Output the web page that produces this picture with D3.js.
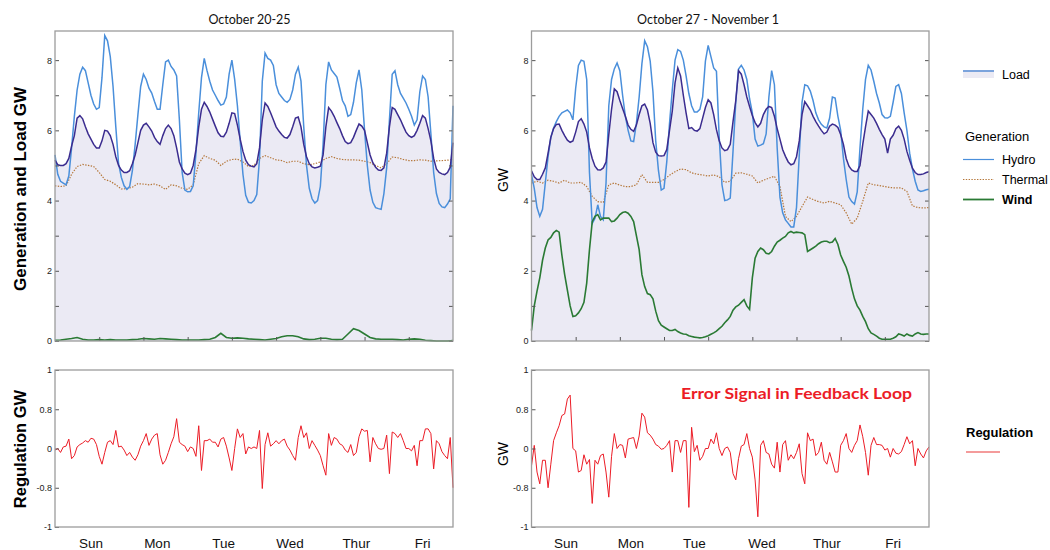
<!DOCTYPE html>
<html>
<head>
<meta charset="utf-8">
<script src="https://cdn.jsdelivr.net/npm/d3@7"></script>
<style>
  body { margin: 0; background: #fff; }
  svg text { font-family: "Liberation Sans", Arial, sans-serif; }
</style>
</head>
<body>
<svg id="chart" width="1050" height="550"></svg>
<script>
// Each week runs Sunday 00:00 to Saturday 00:00 (144 hours)
const weekTitles = ["October 20-25", "October 27 - November 1"];
const dayNames = ["Sun", "Mon", "Tue", "Wed", "Thur", "Fri"];
const dayLabelHours = [[13, 37, 61, 85, 109, 133], [12.5, 36, 59, 83.5, 107, 131]];
const hourTicks = [16, 32, 48, 64, 80, 96, 112, 128];
const gwTicks = [0, 1, 2, 3, 4, 5, 6, 7, 8];
const regTicks = [-1, -0.5, 0, 0.5, 1];
const regTickLabels = ["-1", "-0.8", "0", "0.8", "1"];

// hourly load, GW
const loadOct20 = [
  5.15,5.02,5.0,5.0,5.05,5.2,5.55,5.85,6.35,6.42,6.33,6.1,5.9,5.75,5.6,5.5,5.5,5.7,6.0,5.98,5.85,5.6,5.25,5.0,
  4.87,4.8,4.8,4.85,5.05,5.3,5.65,6.0,6.15,6.2,6.1,5.98,5.8,5.68,5.6,5.85,6.05,6.15,6.05,5.85,5.5,5.1,4.9,4.78,
  4.74,4.78,5.0,5.45,6.1,6.6,6.8,6.68,6.52,6.32,6.12,5.93,5.83,5.82,5.95,6.2,6.5,6.48,6.15,5.75,5.4,5.15,5.02,4.98,
  4.96,5.05,5.5,6.3,6.78,6.68,6.5,6.3,6.1,5.98,5.88,5.8,5.78,5.88,6.1,6.35,6.38,6.1,5.6,5.25,5.05,4.96,4.93,4.95,
  4.98,5.3,6.1,6.65,6.55,6.4,6.22,6.05,5.85,5.68,5.62,5.65,5.8,6.0,6.18,6.12,6.0,5.65,5.3,5.08,4.95,4.87,4.86,4.93,
  5.35,6.1,6.65,6.6,6.45,6.3,6.12,5.95,5.85,5.8,5.85,6.0,6.2,6.42,6.35,6.05,5.7,5.2,4.9,4.8,4.76,4.74,4.8,4.95,5.65
];
const loadOct27 = [
  4.85,4.68,4.6,4.6,4.75,4.93,5.35,5.8,6.05,6.17,6.18,6.0,5.85,5.72,5.66,5.7,5.95,6.25,6.33,6.18,5.95,5.5,5.2,4.98,
  4.88,4.87,4.93,5.1,5.88,6.6,7.18,7.1,6.85,6.62,6.4,6.15,6.03,5.97,6.15,6.45,6.7,6.75,6.58,6.2,5.65,5.38,5.28,5.27,
  5.28,5.45,6.0,6.55,7.35,7.78,7.55,7.0,6.5,6.05,6.08,6.0,5.98,6.05,6.35,6.65,6.87,6.78,6.45,6.02,5.7,5.5,5.42,5.45,
  5.6,6.25,6.85,7.7,7.6,7.3,6.95,6.68,6.42,6.22,6.1,6.2,6.45,6.6,6.68,6.65,6.4,6.05,5.75,5.45,5.26,5.1,5.02,5.05,
  5.25,5.7,6.45,6.82,6.7,6.58,6.4,6.25,6.12,6.0,5.9,5.95,6.12,6.18,6.15,6.08,5.88,5.6,5.2,4.98,4.87,4.83,4.83,5.0,
  5.6,6.1,6.55,6.45,6.35,6.2,6.03,5.88,5.75,5.35,5.75,5.86,6.05,6.12,6.0,5.75,5.4,5.15,4.92,4.8,4.74,4.74,4.76,4.8,4.82
];

// hourly hydro generation, GW
const hydroOct20 = [
  5.3,4.75,4.55,4.5,4.45,4.7,5.5,6.4,7.15,7.6,7.8,7.7,7.35,7.0,6.75,6.6,6.65,7.5,8.7,8.55,8.1,7.25,6.1,5.05,
  4.66,4.42,4.32,4.4,4.85,5.6,6.45,7.25,7.6,7.45,7.2,7.06,6.82,6.6,6.6,7.3,7.95,8.0,7.82,7.72,7.55,6.3,4.8,4.3,
  4.25,4.26,4.42,5.35,6.5,7.5,8.05,7.7,7.4,7.15,7.0,6.85,6.72,6.75,6.95,7.6,8.0,7.45,6.7,5.7,4.75,4.15,3.95,3.93,
  4.0,4.17,5.2,7.4,8.2,8.05,8.0,7.85,7.3,7.05,6.95,6.85,6.8,6.88,7.15,7.6,7.8,7.4,6.1,5.0,4.35,4.05,3.93,4.0,
  4.4,5.6,7.3,7.95,7.72,7.62,7.52,7.2,6.85,6.7,6.4,6.45,6.8,7.35,7.72,7.15,6.0,5.0,4.3,3.95,3.8,3.77,3.75,4.2,
  4.93,6.3,7.6,7.7,7.3,7.05,6.92,6.78,6.6,6.4,6.15,6.3,7.1,7.55,7.45,6.95,5.9,4.8,4.2,3.92,3.82,3.8,3.9,4.05,6.7
];
const hydroOct27 = [
  4.74,4.35,3.8,3.55,3.75,4.5,5.25,5.8,6.07,6.25,6.4,6.5,6.54,6.58,6.5,6.3,7.2,7.85,8.0,7.97,7.45,4.8,3.35,3.5,
  3.88,3.55,3.45,4.5,6.7,7.45,7.75,7.92,7.7,7.0,6.4,6.0,5.7,5.68,6.2,6.95,7.9,8.55,8.38,7.97,7.1,5.7,4.85,4.3,
  4.35,5.1,6.2,7.15,8.0,8.3,8.25,8.0,7.55,7.05,6.7,6.52,6.52,6.6,6.95,7.97,8.42,8.1,7.78,7.68,5.8,4.45,4.0,4.02,
  4.07,5.4,6.8,7.75,7.85,7.72,7.45,6.9,6.5,5.75,5.55,5.58,5.62,5.9,6.95,7.7,7.3,5.5,4.1,3.65,3.45,3.35,3.25,3.25,
  3.8,5.3,6.8,7.3,7.27,7.12,6.85,6.5,6.3,6.17,6.1,6.07,6.35,6.95,6.92,6.4,6.0,5.2,4.6,4.1,3.97,3.9,4.25,5.5,
  6.6,7.45,7.85,7.72,7.4,7.05,6.78,6.45,6.36,6.35,6.4,6.8,7.25,7.3,7.05,6.5,6.0,5.35,4.9,4.55,4.3,4.26,4.28,4.31,4.32
];

// two-hourly thermal generation, GW
const thermalOct20 = [
  4.42,4.4,4.42,4.75,4.97,5.03,5.0,4.97,4.8,4.6,4.55,4.45,
  4.33,4.34,4.38,4.48,4.47,4.45,4.47,4.42,4.32,4.45,4.42,4.35,
  4.32,4.45,5.05,5.28,5.2,5.15,5.0,5.12,5.17,5.18,5.1,4.97,
  5.0,5.2,5.28,5.22,5.16,5.14,5.08,5.12,5.12,5.05,5.02,5.05,
  5.1,5.2,5.25,5.2,5.17,5.16,5.16,5.15,5.12,5.08,5.0,4.93,
  5.05,5.24,5.22,5.17,5.14,5.14,5.16,5.15,5.12,5.13,5.14,5.15,5.17
];
const thermalOct27 = [
  4.5,4.55,4.5,4.58,4.55,4.5,4.58,4.5,4.5,4.52,4.4,4.12,
  3.97,3.95,4.45,4.5,4.44,4.4,4.4,4.45,4.74,4.52,4.52,4.52,
  4.6,4.72,4.82,4.9,4.88,4.79,4.75,4.73,4.7,4.73,4.68,4.52,
  4.55,4.78,4.79,4.75,4.7,4.5,4.58,4.64,4.69,4.4,3.55,3.4,
  3.55,3.83,4.1,4.03,3.97,3.93,3.98,3.93,3.88,3.65,3.33,3.5,
  3.98,4.5,4.45,4.43,4.4,4.37,4.36,4.36,4.26,3.85,3.8,3.79,3.8
];

// wind generation, GW (two-hourly for Oct 20, hourly for Oct 27)
const windOct20 = [
  0.02,0.03,0.05,0.07,0.1,0.05,0.03,0.03,0.04,0.03,0.04,0.03,
  0.03,0.03,0.04,0.05,0.07,0.06,0.05,0.07,0.06,0.05,0.04,0.03,
  0.03,0.03,0.03,0.04,0.05,0.1,0.22,0.1,0.08,0.09,0.08,0.06,
  0.05,0.04,0.03,0.05,0.07,0.12,0.15,0.15,0.12,0.06,0.04,0.05,
  0.08,0.08,0.05,0.04,0.05,0.2,0.35,0.3,0.2,0.1,0.06,0.05,
  0.05,0.05,0.04,0.03,0.05,0.06,0.05,0.02,0.01,0.0,0.0,0.0,0.01
];
const windOct27 = [
  0.3,1.0,1.42,1.8,2.3,2.65,2.88,2.95,3.08,3.15,3.1,2.45,1.9,1.45,1.0,0.7,0.72,0.8,0.92,1.1,1.65,2.6,3.4,3.55,
  3.6,3.45,3.5,3.5,3.5,3.4,3.42,3.5,3.6,3.66,3.68,3.64,3.55,3.4,3.0,2.6,1.89,1.55,1.35,1.32,1.2,0.85,0.58,0.45,
  0.4,0.35,0.3,0.3,0.33,0.27,0.23,0.2,0.19,0.15,0.13,0.11,0.1,0.09,0.1,0.12,0.15,0.19,0.23,0.28,0.35,0.42,0.52,0.6,
  0.7,0.88,0.97,1.02,1.1,1.18,1.0,0.9,1.8,2.36,2.55,2.65,2.6,2.5,2.48,2.55,2.7,2.82,2.87,2.93,2.98,3.08,3.12,3.08,
  3.1,3.09,3.08,3.03,2.55,2.6,2.65,2.7,2.77,2.82,2.84,2.84,2.8,2.82,2.92,2.75,2.45,2.27,2.1,1.85,1.5,1.2,1.0,0.88,
  0.7,0.55,0.35,0.23,0.19,0.14,0.08,0.05,0.05,0.05,0.05,0.08,0.12,0.2,0.18,0.14,0.2,0.16,0.14,0.2,0.24,0.2,0.19,0.2,0.2
];

// hourly regulation signal (axis units)
const regOct20 = [
  -0.02,0.0,-0.05,0.02,0.03,0.12,-0.13,-0.09,0.02,0.05,0.07,0.1,0.08,0.13,0.12,0.05,-0.1,-0.2,-0.05,0.08,0.1,0.05,0.23,0.02,
  0.03,-0.02,-0.09,-0.05,-0.11,-0.15,-0.08,0.03,0.1,0.19,0.04,0.12,0.17,0.19,-0.08,-0.2,-0.15,-0.05,0.06,0.15,0.38,0.08,0.05,0.03,
  -0.04,0.02,0.0,-0.1,0.29,-0.28,0.1,0.1,0.12,0.08,0.08,0.02,0.12,0.14,0.03,-0.12,-0.28,0.0,0.25,0.14,0.19,-0.07,0.02,0.0,
  0.02,0.0,0.23,-0.51,0.05,0.2,0.03,0.06,0.1,0.06,0.1,0.12,0.03,-0.02,-0.09,-0.15,0.14,0.29,0.14,0.2,0.0,0.1,0.04,-0.02,
  -0.09,-0.22,-0.34,0.19,0.04,0.14,0.12,0.06,0.04,-0.02,-0.05,0.05,-0.09,-0.05,0.15,0.25,0.22,0.23,-0.17,0.14,0.06,0.0,-0.01,0.0,
  0.17,-0.32,0.21,0.19,0.14,0.19,0.1,0.0,0.0,-0.03,0.04,-0.22,0.1,0.1,0.25,0.25,0.19,-0.26,0.1,0.06,-0.04,-0.09,-0.13,0.14,-0.5
];
const regOct27 = [
  -0.22,0.04,-0.3,-0.45,-0.15,-0.15,-0.5,-0.2,0.1,0.2,0.29,0.42,0.44,0.63,0.68,0.0,-0.03,-0.3,-0.28,-0.08,-0.2,-0.14,-0.7,-0.15,
  -0.2,-0.09,-0.07,-0.3,-0.62,-0.1,0.19,0.0,0.05,0.04,-0.12,0.12,0.13,0.14,0.0,0.16,0.45,0.4,0.2,0.17,0.12,0.05,0.03,-0.01,
  0.0,0.04,0.1,-0.3,0.1,0.1,-0.05,0.1,0.1,-0.75,0.27,-0.04,0.04,-0.15,-0.1,0.0,0.0,0.12,0.06,0.2,0.0,-0.09,0.0,0.02,
  -0.05,-0.32,-0.4,-0.13,0.03,0.05,0.19,0.0,-0.11,-0.4,-0.87,0.04,0.1,-0.05,-0.07,-0.2,-0.25,0.08,-0.3,0.05,0.1,-0.15,-0.08,-0.13,
  -0.05,0.06,-0.32,-0.45,0.2,0.1,0.12,-0.09,-0.05,0.08,-0.15,-0.2,-0.05,-0.17,-0.3,-0.3,0.04,0.1,0.19,0.0,-0.05,0.04,0.1,0.3,
  0.15,-0.05,-0.34,0.04,0.14,0.05,0.05,0.04,-0.02,0.0,-0.11,0.0,-0.06,-0.07,-0.04,0.05,0.15,0.06,0.1,-0.22,0.0,-0.07,-0.12,-0.03,0.02
];

const colors = {
  load: "#3b2c8f", loadFill: "#ebeaf4", hydro: "#4a8fdb",
  thermal: "#b5773a", wind: "#2a7a34", reg: "#ec1c26", frame: "#9c9c9c"
};

const svg = d3.select("#chart");
const panelX = [[55, 453], [531.5, 929]];
const yGen = d3.scaleLinear().domain([0, 8.83]).range([341, 31]);
const yReg = d3.scaleLinear().domain([-1, 1]).range([527, 370]);

// spread an array evenly over the 144 hours
const hourAt = (i, arr) => i * 144 / (arr.length - 1);

drawGeneration(0, loadOct20, hydroOct20, thermalOct20, windOct20);
drawGeneration(1, loadOct27, hydroOct27, thermalOct27, windOct27);
drawRegulation(0, regOct20);
drawRegulation(1, regOct27);
drawLabels();
drawLegend();

function styleAxis(g) {
  g.select(".domain").remove();
  g.attr("font-family", '"Liberation Sans", Arial, sans-serif').attr("font-size", 9);
  g.selectAll("line").attr("stroke", "#555");
  g.selectAll("text").attr("fill", "#222");
}

function drawGeneration(p, load, hydro, thermal, wind) {
  const [x0, x1] = panelX[p];
  const x = d3.scaleLinear().domain([0, 144]).range([x0, x1]);
  const g = svg.append("g");

  const line = d3.line()
    .x((d, i, arr) => x(hourAt(i, arr)))
    .y(d => yGen(d));

  // Load area
  g.append("path")
    .datum(load)
    .attr("d", d3.area()
      .x((d, i, arr) => x(hourAt(i, arr)))
      .y0(yGen(0))
      .y1(d => yGen(d)))
    .attr("fill", colors.loadFill);

  g.append("path").datum(thermal).attr("d", line)
    .attr("fill", "none").attr("stroke", colors.thermal)
    .attr("stroke-width", 1.2).attr("stroke-dasharray", "1.4,1.4");

  g.append("path").datum(hydro).attr("d", line)
    .attr("fill", "none").attr("stroke", colors.hydro).attr("stroke-width", 1.5);

  g.append("path").datum(load).attr("d", line)
    .attr("fill", "none").attr("stroke", colors.load).attr("stroke-width", 1.5);

  g.append("path").datum(wind).attr("d", line)
    .attr("fill", "none").attr("stroke", colors.wind).attr("stroke-width", 1.6);

  // Axes (inner ticks)
  g.append("g")
    .attr("transform", `translate(${x0},0)`)
    .call(d3.axisLeft(yGen).tickValues(gwTicks).tickSize(-4).tickPadding(3)
      .tickFormat(d => d % 2 ? "" : d))
    .call(styleAxis);

  g.append("g")
    .attr("transform", `translate(${x1},0)`)
    .call(d3.axisRight(yGen).tickValues(gwTicks).tickSize(-4).tickFormat(""))
    .call(styleAxis);

  g.append("g")
    .attr("transform", `translate(0,${yGen(0)})`)
    .call(d3.axisBottom(x).tickValues(hourTicks).tickSize(-4).tickFormat(""))
    .call(styleAxis);

  g.append("rect")
    .attr("x", x0).attr("y", 31)
    .attr("width", x1 - x0).attr("height", 310)
    .attr("fill", "none").attr("stroke", colors.frame).attr("stroke-width", 1.3);

  g.append("text")
    .attr("x", p === 0 ? 249.5 : 708)
    .attr("y", 24)
    .attr("text-anchor", "middle")
    .style("font-family", "Lato, sans-serif")
    .style("font-size", "12.5px")
    .attr("fill", "#111")
    .text(weekTitles[p]);
}

function drawRegulation(p, reg) {
  const [x0, x1] = panelX[p];
  const x = d3.scaleLinear().domain([0, 144]).range([x0, x1]);
  const g = svg.append("g");

  g.append("path")
    .datum(reg)
    .attr("d", d3.line()
      .x((d, i, arr) => x(hourAt(i, arr)))
      .y(d => yReg(d)))
    .attr("fill", "none")
    .attr("stroke", colors.reg)
    .attr("stroke-width", 1);

  g.append("g")
    .attr("transform", `translate(${x0},0)`)
    .call(d3.axisLeft(yReg).tickValues(regTicks).tickSize(-4).tickPadding(3)
      .tickFormat((d, i) => regTickLabels[i]))
    .call(styleAxis);

  g.append("rect")
    .attr("x", x0).attr("y", 370)
    .attr("width", x1 - x0).attr("height", 157)
    .attr("fill", "none").attr("stroke", colors.frame).attr("stroke-width", 1.3);

  g.selectAll(".day")
    .data(dayNames)
    .enter()
    .append("text")
    .attr("x", (d, i) => x(dayLabelHours[p][i]))
    .attr("y", 548)
    .attr("text-anchor", "middle")
    .style("font-size", "13.5px")
    .attr("fill", "#111")
    .text(d => d);
}

function drawLabels() {
  const ylab = (x, y, txt, size, weight) => svg.append("text")
    .attr("transform", `translate(${x},${y}) rotate(-90)`)
    .attr("text-anchor", "middle")
    .attr("dy", "0.35em")
    .style("font-size", size + "px")
    .style("font-weight", weight)
    .attr("fill", "#000")
    .text(txt);

  ylab(20, 189, "Generation and Load GW", 17, "bold");
  ylab(20, 449, "Regulation GW", 16.5, "bold");
  ylab(503, 180, "GW", 14, "normal");
  ylab(503, 454, "GW", 14, "normal");

  svg.append("text")
    .attr("x", 681).attr("y", 398.5)
    .attr("textLength", 231)
    .attr("lengthAdjust", "spacingAndGlyphs")
    .style("font-family", "Lato, sans-serif")
    .style("font-size", "16px")
    .style("font-weight", "bold")
    .attr("fill", colors.reg)
    .text("Error Signal in Feedback Loop");
}

function drawLegend() {
  const lg = svg.append("g").style("font-family", "Lato, sans-serif").style("font-size", "12.5px");
  const lx = 963, lw = 31, tx = 1002;

  lg.append("rect").attr("x", lx).attr("y", 71).attr("width", lw).attr("height", 7)
    .attr("fill", colors.loadFill);
  lg.append("line").attr("x1", lx).attr("x2", lx + lw).attr("y1", 71).attr("y2", 71)
    .attr("stroke", "#7ba3dc").attr("stroke-width", 2);
  lg.append("text").attr("x", tx).attr("y", 78.5).text("Load");

  lg.append("text").attr("x", 965).attr("y", 141).style("font-size", "13px").text("Generation");

  const items = [
    { name: "Hydro", y: 159.5, color: colors.hydro, width: 1.2, dash: null, bold: false },
    { name: "Thermal", y: 179.5, color: colors.thermal, width: 1.1, dash: "1.4,1.4", bold: false },
    { name: "Wind", y: 199.5, color: colors.wind, width: 1.8, dash: null, bold: true }
  ];
  items.forEach(it => {
    lg.append("line").attr("x1", lx).attr("x2", lx + lw).attr("y1", it.y).attr("y2", it.y)
      .attr("stroke", it.color).attr("stroke-width", it.width)
      .attr("stroke-dasharray", it.dash);
    lg.append("text").attr("x", tx).attr("y", it.y + 4.5)
      .style("font-weight", it.bold ? "bold" : "normal")
      .text(it.name);
  });

  lg.append("text").attr("x", 966).attr("y", 436.5)
    .style("font-weight", "bold").style("font-size", "13px").text("Regulation");
  lg.append("line").attr("x1", 966).attr("x2", 1000).attr("y1", 452).attr("y2", 452)
    .attr("stroke", "#f07a7a").attr("stroke-width", 1.5);
}
</script>
</body>
</html>
